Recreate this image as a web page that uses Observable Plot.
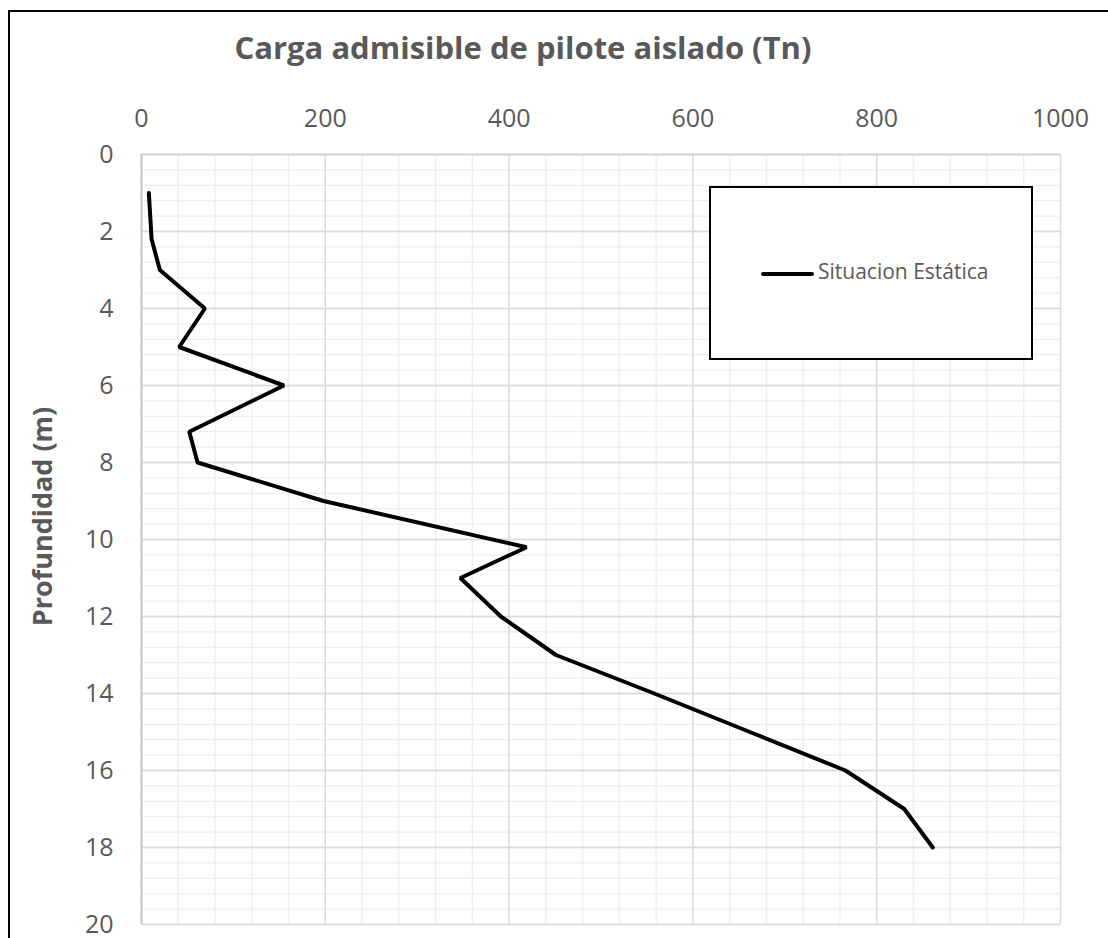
<!DOCTYPE html>
<html>
<head>
<meta charset="utf-8">
<script src="https://cdn.jsdelivr.net/npm/d3@7"></script>
<script src="https://cdn.jsdelivr.net/npm/@observablehq/plot@0.6"></script>
<style>
  html, body { margin: 0; padding: 0; background: #fff; overflow: hidden; }
  #wrap { position: relative; width: 1108px; height: 938px; overflow: hidden; font-family: "Open Sans", sans-serif; }
  #frame { position: absolute; left: 8px; top: 10px; width: 1300px; height: 1200px; border: 2px solid #000; box-sizing: border-box; }
  #chart { position: absolute; left: 0; top: 0; }
  #title { position: absolute; left: 523px; top: 32px; transform: translateX(-50%); white-space: nowrap;
           font-size: 31px; font-weight: bold; color: #595959; line-height: 1; }
  #legend { position: absolute; left: 709px; top: 186px; width: 324px; height: 174px; box-sizing: border-box;
            border: 2px solid #000; background: #fff; }
  #legend .sw { position: absolute; left: 50px; top: 84px; width: 53px; height: 4px; background: #000; border-radius: 2px; }
  #legend .lb { position: absolute; left: 107px; top: 71px; font-size: 21px; color: #595959; line-height: 1.2; white-space: nowrap; }
</style>
</head>
<body>
<div id="wrap">
  <div id="frame"></div>
  <div id="chart"></div>
  <div id="title">Carga admisible de pilote aislado (Tn)</div>
  <div id="legend"><div class="sw"></div><div class="lb">Situacion Estática</div></div>
</div>
<script>
// Data
const profundidad = [1, 2.2, 3, 4, 5, 6, 7.2, 8, 9, 10.2, 11, 12, 13, 14, 15, 16, 17, 18];
const carga       = [8, 11, 20, 69, 41, 155, 52, 61, 198, 419, 347, 391, 451, 558, 662, 766, 830, 861];
const seriesName  = "Situacion Estática";

// Axis ticks
const xTicks = [0, 200, 400, 600, 800, 1000];
const yTicks = [0, 2, 4, 6, 8, 10, 12, 14, 16, 18, 20];
const xMinor = d3.range(0, 1001, 40);
const yMinor = d3.range(0, 51).map(i => +(i * 0.4).toFixed(1));

const yTitle = "Profundidad (m)";

const data = profundidad.map((p, i) => ({prof: p, carga: carga[i], serie: seriesName}));

const chart = Plot.plot({
  width: 1108,
  height: 938,
  marginLeft: 141,
  marginRight: 48,
  marginTop: 154,
  marginBottom: 14,
  x: {domain: [0, 1000], axis: null},
  y: {domain: [0, 20], reverse: true, axis: null},
  style: {fontFamily: "Open Sans, sans-serif", color: "#595959", background: "transparent", overflow: "visible"},
  marks: [
    Plot.gridX(xMinor, {stroke: "#eeeeee", strokeOpacity: 1, strokeWidth: 1.3}),
    Plot.gridY(yMinor, {stroke: "#eeeeee", strokeOpacity: 1, strokeWidth: 1.3}),
    Plot.gridX(xTicks, {stroke: "#d9d9d9", strokeOpacity: 1, strokeWidth: 1.3}),
    Plot.gridY(yTicks, {stroke: "#d9d9d9", strokeOpacity: 1, strokeWidth: 1.3}),
    Plot.ruleX([0], {stroke: "#c4c4c4", strokeWidth: 1.8}),
    Plot.ruleY([0], {stroke: "#cfcfcf", strokeWidth: 1.5}),
    Plot.axisX(xTicks, {anchor: "top", tickSize: 0, tickPadding: 28, fontSize: 25, fill: "#595959", label: null, tickFormat: d => String(d)}),
    Plot.axisY(yTicks, {anchor: "left", tickSize: 0, tickPadding: 28, fontSize: 25, fill: "#595959", label: null, tickFormat: d => String(d)}),
    Plot.line(data, {x: "carga", y: "prof", stroke: "#000", strokeWidth: 4, strokeLinejoin: "miter", strokeLinecap: "round"}),
    Plot.text([yTitle], {frameAnchor: "left", textAnchor: "middle", rotate: -90, dx: -98.5, dy: -23, fontSize: 27, fontWeight: "bold", fill: "#595959"})
  ]
});
document.getElementById("chart").appendChild(chart);
</script>
</body>
</html>
